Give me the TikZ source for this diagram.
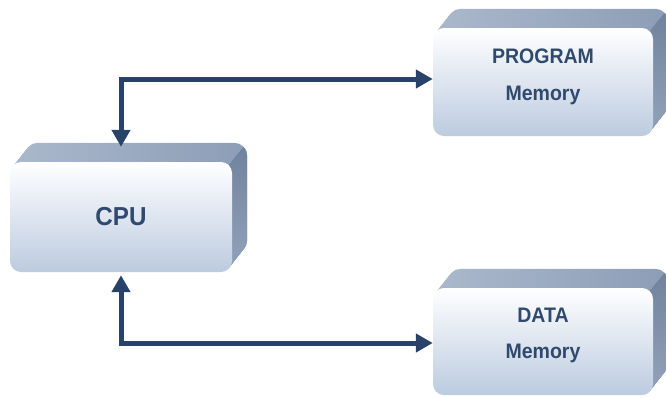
\documentclass[tikz,border=0pt]{standalone}
\usepackage{fontspec}
\newfontfamily\boxfont{Liberation Sans}[FakeStretch=0.93]
\usetikzlibrary{arrows.meta,backgrounds}

\definecolor{faceTop}{HTML}{FFFFFF}
\definecolor{faceBot}{HTML}{BCCBE0}
\definecolor{topL}{HTML}{A9B7CB}
\definecolor{topR}{HTML}{8C9DB6}
\definecolor{sideT}{HTML}{6F819C}
\definecolor{sideB}{HTML}{8E9EB6}
\definecolor{ink}{HTML}{2F4A6E}
\definecolor{wire}{HTML}{28426A}

\tikzset{
  face/.style={rounded corners=11pt, top color=faceTop, bottom color=faceBot,
    inner sep=0pt, font=\boxfont\bfseries, text=ink, align=center},
  conn/.style={draw=wire, line width=5pt, line join=miter,
    {Triangle[length=17pt,width=18pt]}-{Triangle[length=17pt,width=18pt]}}
}

% extruded back part of a box: top face, then the darker right face
\newcommand\extrude[1]{%
  \begin{scope}[on background layer]
    \foreach \t in {1,...,20}
      \shade[left color=topL, right color=topR, rounded corners=13pt]
        ([shift={(\t*0.75pt,\t*0.95pt)}]#1.south west) rectangle
        ([shift={(\t*0.75pt,\t*0.95pt)}]#1.north east);
    \begin{scope}
      \clip ([shift={(-9pt,-11pt)}]#1.north east) -- ([shift={(26pt,33pt)}]#1.north east)
        -- ([shift={(40pt,33pt)}]#1.north east) -- ([shift={(40pt,-20pt)}]#1.south east)
        -- ([shift={(-9pt,-20pt)}]#1.south east) -- cycle;
      \foreach \t in {1,...,20}
        \shade[top color=sideT, bottom color=sideB, rounded corners=13pt]
          ([shift={(\t*0.75pt,\t*0.95pt)}]#1.south west) rectangle
          ([shift={(\t*0.75pt,\t*0.95pt)}]#1.north east);
    \end{scope}
  \end{scope}}

\begin{document}
\begin{tikzpicture}[x=1pt,y=-1pt]
  \useasboundingbox (0,0) rectangle (666,397);

  \node[face, minimum width=222pt, minimum height=110pt,
        font=\boxfont\bfseries\fontsize{26}{30}\selectfont] (cpu) at (121,217) {CPU};
  \node[face, minimum width=220pt, minimum height=108pt,
        font=\boxfont\bfseries\fontsize{21}{37}\selectfont] (prog) at (543,82)
        {PROGRAM\\Memory\rule[-15pt]{0pt}{15pt}};
  \node[face, minimum width=220pt, minimum height=107pt,
        font=\boxfont\bfseries\fontsize{21}{36}\selectfont] (data) at (543,341.5)
        {DATA\\Memory\rule[-16pt]{0pt}{16pt}};

  \extrude{cpu}
  \extrude{prog}
  \extrude{data}

  % buses between the CPU and the two memories
  \draw[conn] ([yshift=15pt]cpu.north) |- ([yshift=3pt]prog.west);
  \draw[conn] ([yshift=-3pt]cpu.south) |- ([yshift=-1.5pt]data.west);
\end{tikzpicture}
\end{document}
